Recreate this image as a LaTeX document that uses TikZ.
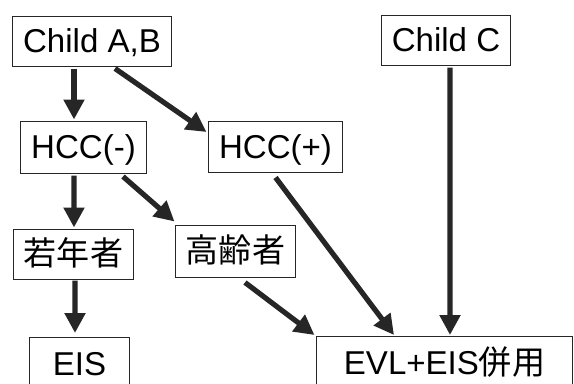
\documentclass[tikz,border=0pt]{standalone}
\usepackage{fontspec}
\setmainfont{Liberation Sans}
\newfontfamily\jpfont{Noto Sans CJK JP}
\usetikzlibrary{arrows.meta}

\begin{document}
\begin{tikzpicture}[
    x=0.025cm, y=-0.025cm,
    box/.style={rectangle, draw=black!85, line width=0.7pt, inner sep=0pt, text height=17pt, text depth=0pt, font=\fontsize{23.5}{28}\selectfont},
    arrow/.style={-{Triangle[length=0.5cm, width=0.5cm]}, line width=0.13cm, draw=black!85}
]
\clip (0,0) rectangle (574,383);
\fill[white] (0,0) rectangle (574,383);

\node[box, minimum width=3.95cm, minimum height=1.25cm] (childab) at (92,41) {Child A,B};
\node[box, minimum width=3.2cm, minimum height=1.25cm] (childc) at (446,40) {Child C};
\node[box, minimum width=3.125cm, minimum height=1.3cm] (hccminus) at (83.5,147) {HCC(-)};
\node[box, minimum width=3.325cm, minimum height=1.275cm] (hccplus) at (275.5,146.5) {HCC(+)};
\node[box, minimum width=2.975cm, minimum height=1.25cm] (young) at (73.5,254) {\jpfont 若年者};
\node[box, minimum width=2.975cm, minimum height=1.3cm] (old) at (235.5,251) {\jpfont 高齢者};
\node[box, anchor=north, minimum width=2.475cm, minimum height=1.3cm] (eis) at (79.5,337) {EIS};
\node[box, anchor=north, minimum width=6.375cm, minimum height=1.3cm] (evl) at (444.5,336) {EVL+EIS{\jpfont 併用}};

\draw[arrow] ([shift={(-18,2)}]childab.south) -- ([shift={(-9.5,-1)}]hccminus.north);
\draw[arrow] ([shift={(23,2)}]childab.south) -- ([shift={(-2,-14.5)}]hccplus.west);
\draw[arrow] ([shift={(-9.5,2)}]hccminus.south) -- ([shift={(0.5,-1)}]young.north);
\draw[arrow] ([shift={(39.5,3)}]hccminus.south) -- ([shift={(-1,-3)}]old.north west);
\draw[arrow] ([shift={(1.5,1)}]young.south) -- ([shift={(-4.5,-4)}]eis.north);
\draw[arrow] ([shift={(9.5,5)}]old.south) -- ([shift={(-2,-1)}]evl.north west);
\draw[arrow] ([shift={(0,5)}]hccplus.south) -- ([shift={(-50.5,-1)}]evl.north);
\draw[arrow] ([shift={(4,2)}]childc.south) -- ([shift={(5.5,-1)}]evl.north);

\end{tikzpicture}
\end{document}
